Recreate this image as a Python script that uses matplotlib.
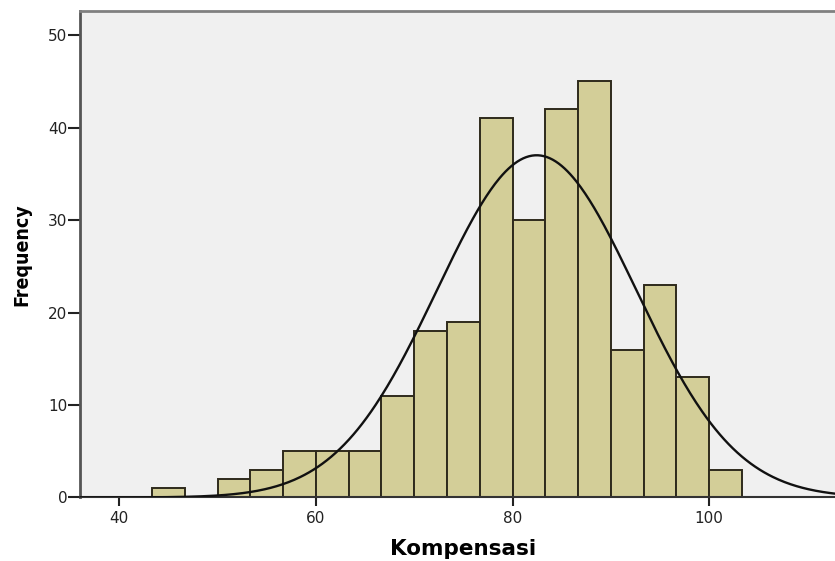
import numpy as np
import matplotlib
matplotlib.use("Agg")
import matplotlib.pyplot as plt

# Histogram of Kompensasi scores (bin width 10/3) with fitted normal curve
bin_edges = np.linspace(43.333, 103.333, 19)
counts = [1, 0, 2, 3, 5, 5, 5, 11, 18, 19, 41, 30, 42, 45, 16, 23, 13, 3]
fit_mean = 82.45
fit_std = 10.13
x_ticks = [40, 60, 80, 100]
y_ticks = [0, 10, 20, 30, 40, 50]

fig = plt.figure(figsize=(8.35, 5.61), dpi=100)
ax = fig.add_axes([0.0958, 0.1132, 0.9042, 0.8668])
ax.set_facecolor("#f0f0f0")

ax.bar(bin_edges[:-1], counts, width=np.diff(bin_edges), align="edge",
       color="#d3ce98", edgecolor="#2e2a1c", linewidth=1.4, zorder=2)

n = sum(counts)
bw = bin_edges[1] - bin_edges[0]
xs = np.linspace(30, 120, 600)
ys = n * bw / (fit_std * np.sqrt(2 * np.pi)) * np.exp(-0.5 * ((xs - fit_mean) / fit_std) ** 2)
ax.plot(xs, ys, color="#111111", linewidth=1.7, zorder=3)

ax.set_xlim(36.0, 112.8)
ax.set_ylim(0, 52.6)
ax.set_xticks(x_ticks)
ax.set_yticks(y_ticks)

ax.spines["right"].set_visible(False)
ax.spines["top"].set_color("#808080")
ax.spines["top"].set_linewidth(2)
ax.spines["left"].set_color("#555555")
ax.spines["left"].set_linewidth(2)
ax.spines["bottom"].set_color("#333333")
ax.spines["bottom"].set_linewidth(1.5)

ax.tick_params(axis="y", direction="out", length=8.5, width=1.5, color="#222222",
               labelsize=11, labelcolor="#222222", pad=0.5)
ax.tick_params(axis="x", direction="out", length=6.5, width=1.5, color="#222222",
               labelsize=11, labelcolor="#222222", pad=3)

ax.set_xlabel("Kompensasi", fontsize=15.5, fontweight="bold",
              family=["DejaVu Sans"], va="top")
ax.xaxis.set_label_coords(0.507, -0.086)
ax.set_ylabel("Frequency", fontsize=14, fontweight="bold",
              family=["Liberation Sans Narrow", "DejaVu Sans"], fontstretch="condensed")
ax.yaxis.set_label_coords(-0.064, 0.5)

fig.savefig("out.png", dpi=100)
